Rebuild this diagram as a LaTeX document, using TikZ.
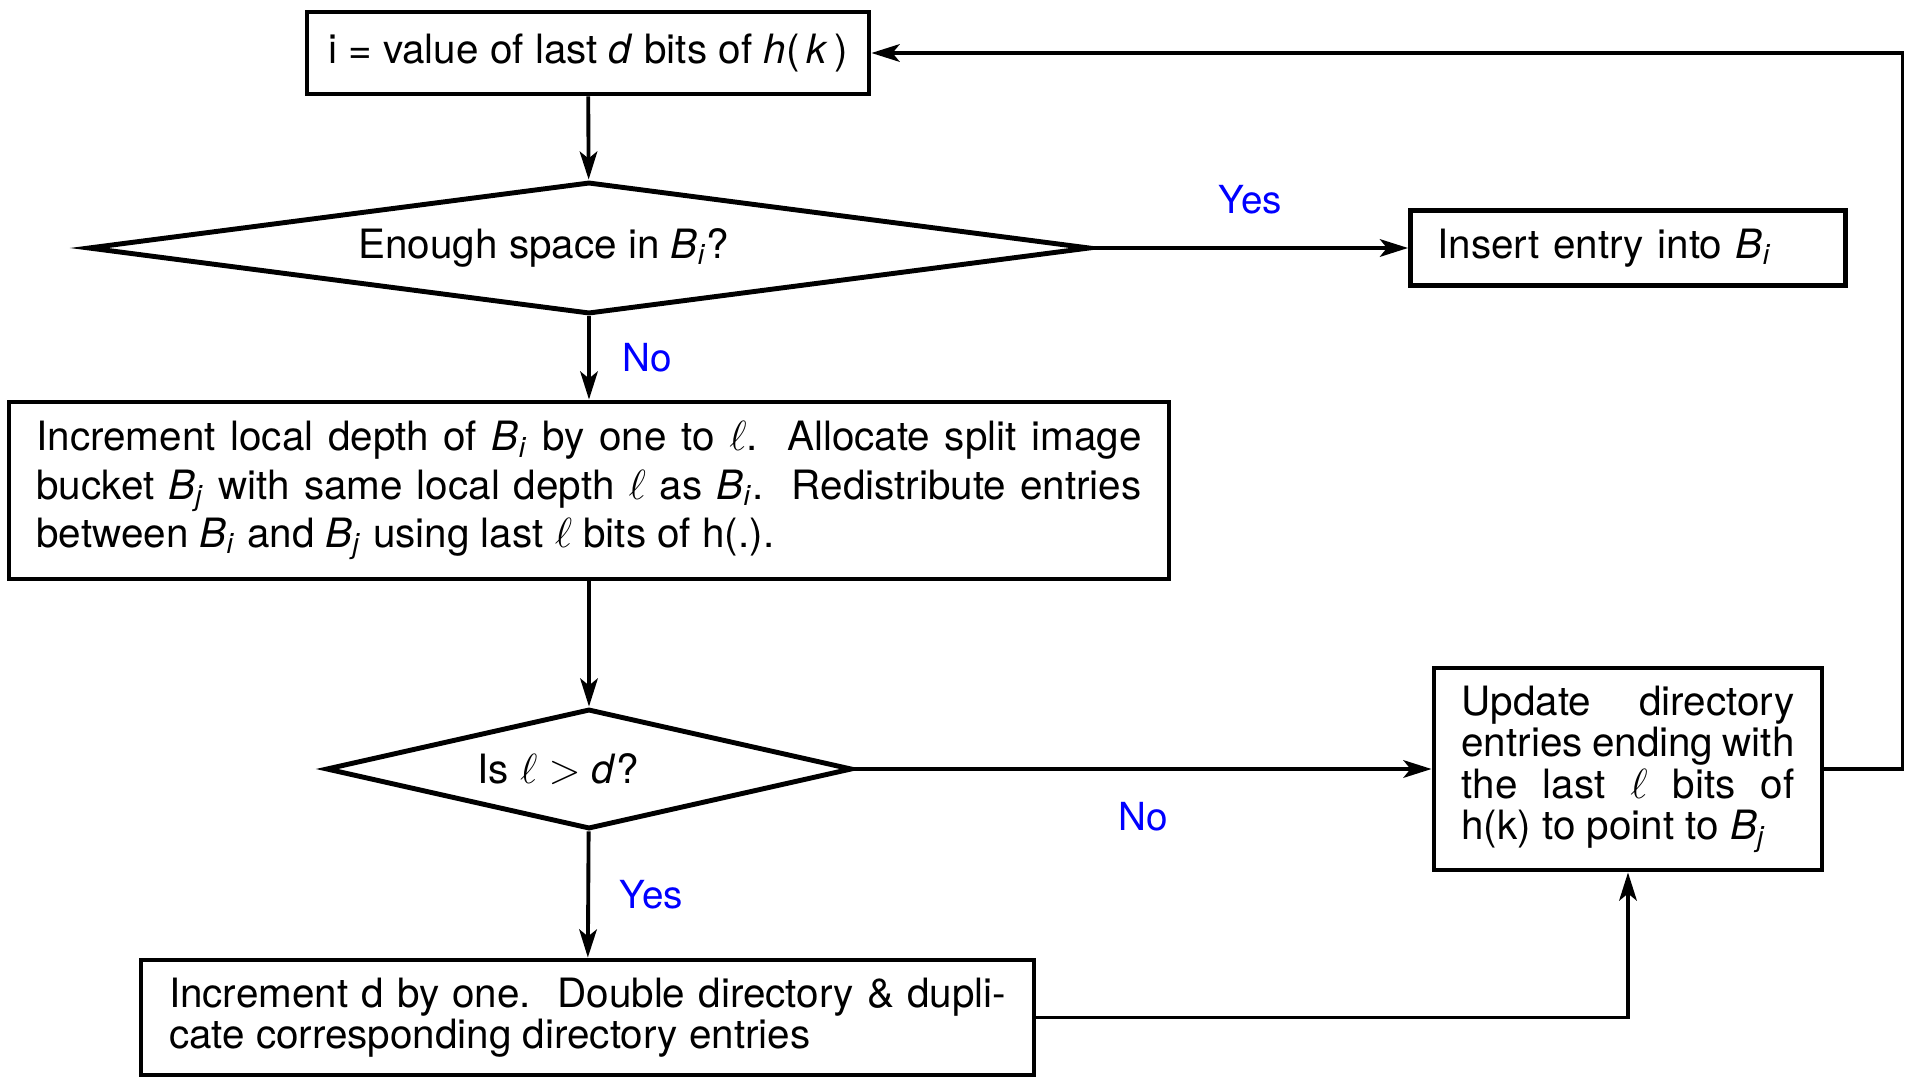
\documentclass[tikz,border=0pt]{standalone}
\usepackage{fontspec}
\setmainfont{TeX Gyre Heros}
\usetikzlibrary{shapes.geometric,positioning,arrows.meta}
\newcommand{\Bsub}[1]{\textit{B}\textsubscript{\textit{#1}}}

\tikzset{
  block/.style={draw, line width=1.4pt, inner sep=0pt, align=justify},
  decision/.style={draw, diamond, line width=1.4pt, inner sep=0pt},
  line/.style={line width=1.1pt, -{Stealth[length=8pt,width=5pt,inset=2pt]}},
  answer/.style={text=blue, font=\fontsize{11pt}{13pt}\selectfont}
}

\begin{document}
\begin{tikzpicture}[font=\fontsize{11.5pt}{13.7pt}\selectfont]
\useasboundingbox (0,0) rectangle (19.24,-10.82);
\node (top) [block, align=center, minimum width=5.62cm, minimum height=0.82cm] at (5.88,-0.53)
  {i = value of last \textit{d} bits of \textit{h}(\,\textit{k}\,)};
\node (space) [decision, aspect=8, minimum width=10.02cm, minimum height=1.32cm] at (5.89,-2.48)
  {Enough space in \Bsub{i}?\kern0.9cm};
\node (insert) [block, align=left, text width=3.81cm, inner xsep=0.27cm, minimum height=0.75cm] at (16.28,-2.48)
  {Insert entry into \Bsub{i}};
\node (split) [block, text width=11.05cm, inner xsep=0.275cm, minimum height=1.77cm] at (5.89,-4.905)
  {Increment local depth of \Bsub{i} by one to $\ell$.\ \ Allocate split image bucket \Bsub{j} with same local depth $\ell$ as \Bsub{i}.\ \ Redistribute entries between \Bsub{i} and \Bsub{j} using last $\ell$ bits of h(.).};
\node (depth) [decision, aspect=4.4, minimum width=5.26cm, minimum height=1.20cm] at (5.89,-7.69)
  {Is $\ell$ $>$ \textit{d}?\kern0.62cm};
\node (update) [block, text width=3.33cm, inner xsep=0.275cm, minimum height=2.02cm,
  font=\fontsize{11.5pt}{11.8pt}\selectfont] at (16.28,-7.69)
  {Update directory entries ending with the last $\ell$ bits of h(k) to point to \Bsub{j}};
\node (double) [block, text width=8.37cm, inner xsep=0.28cm, minimum height=1.15cm,
  font=\fontsize{11.5pt}{11.6pt}\selectfont] at (5.875,-10.175)
  {Increment d by one.\ \ Double directory \& dupli\-cate corresponding directory entries};

% connectors
\draw [line] (top) -- (space);
\draw [line] (space) -- node (yes1) [answer, above=0.2cm] {Yes} (insert);
\draw [line] (space) -- node (no1) [answer, right=0.2cm] {No} (split);
\draw [line] (split) -- (depth);
\draw [line] (depth) -- node (no2) [answer, below=0.2cm] {No} (update);
\draw [line] (depth) -- node (yes2) [answer, right=0.18cm] {Yes} (double);
\draw [line] (double) -| (update);
\draw [line] (update.east) -- ++(0.78,0) |- (top.east);
\end{tikzpicture}
\end{document}
